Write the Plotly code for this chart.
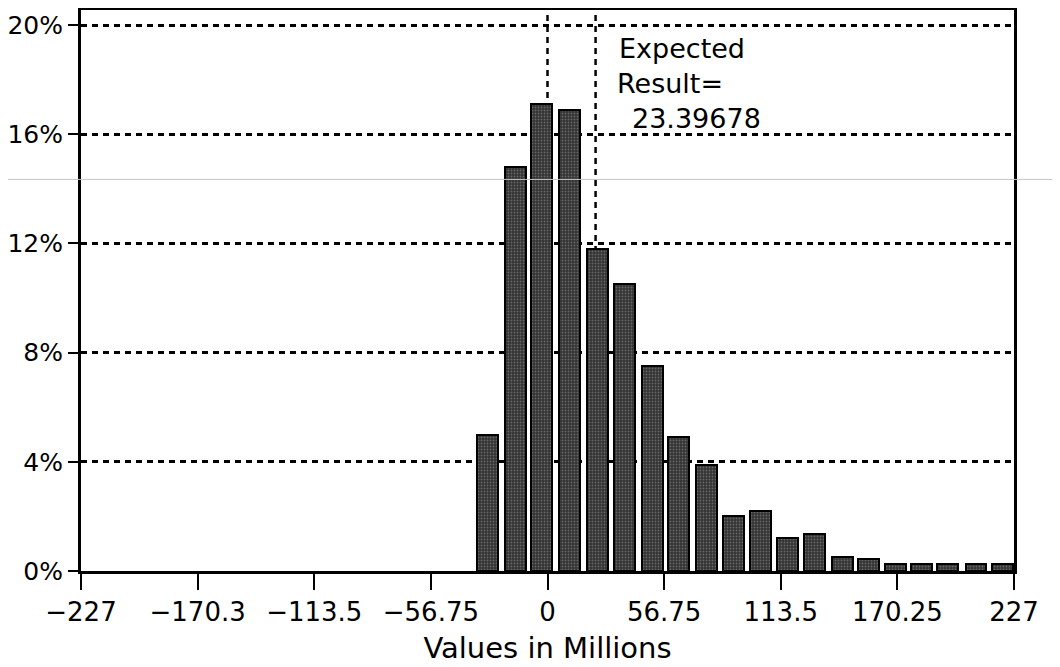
import plotly.graph_objects as go

# Data
bin_centers = [-29.2, -15.8, -2.9, 10.7, 24.1, 37.3, 51.0, 63.8, 77.2, 90.6,
               103.7, 116.9, 130.1, 143.5, 156.4, 169.5, 182.2, 194.8, 208.5, 221.6]
percent = [5.0, 14.8, 17.1, 16.9, 11.8, 10.5, 7.5, 4.9, 3.9, 2.0,
           2.2, 1.2, 1.35, 0.5, 0.45, 0.25, 0.25, 0.25, 0.25, 0.25]
expected_result = 23.39678

x_tickvals = [-227, -170.25, -113.5, -56.75, 0, 56.75, 113.5, 170.25, 227]
x_ticktext = ["−227", "−170.3", "−113.5", "−56.75", "0", "56.75", "113.5", "170.25", "227"]
y_tickvals = [0, 4, 8, 12, 16, 20]
y_ticktext = ["0%", "4%", "8%", "12%", "16%", "20%"]

FONT = "DejaVu Sans"

fig = go.Figure()
fig.add_trace(go.Bar(
    x=bin_centers, y=percent, width=10.2,
    marker=dict(color="#3a3a3a",
                line=dict(color="black", width=2),
                pattern=dict(shape=".", fgcolor="#9a9a9a", bgcolor="#333333",
                             size=3, solidity=0.3)),
    showlegend=False, hoverinfo="x+y",
))

# dashed vertical reference lines (behind bars)
for xv in [0, expected_result]:
    fig.add_shape(type="line", xref="x", yref="paper", x0=xv, x1=xv, y0=0, y1=1,
                  line=dict(color="black", width=2.5, dash="6px,5px"), layer="between")

# small tick at expected result below axis
fig.add_shape(type="line", xref="x", yref="y", x0=expected_result, x1=expected_result,
              ysizemode="pixel", yanchor=0, y0=0, y1=-11,
              line=dict(color="black", width=2))

# faint scan line
fig.add_shape(type="line", xref="paper", yref="paper", x0=-0.09, x1=1.06, y0=0.698, y1=0.698,
              line=dict(color="#c4c4c4", width=1), layer="above")

ann_font = dict(family=FONT, size=27, color="black")
fig.add_annotation(text="Expected", xref="paper", yref="paper", x=0.5745, y=0.931,
                   xanchor="left", yanchor="middle", showarrow=False, font=ann_font)
fig.add_annotation(text="Result=", xref="paper", yref="paper", x=0.5725, y=0.869,
                   xanchor="left", yanchor="middle", showarrow=False, font=ann_font)
fig.add_annotation(text=f"{expected_result}", xref="paper", yref="paper", x=0.588, y=0.806,
                   xanchor="left", yanchor="middle", showarrow=False, font=ann_font)

fig.update_layout(
    width=1052, height=659,
    margin=dict(l=73, r=46, t=2, b=96),
    paper_bgcolor="white", plot_bgcolor="white",
    font=dict(family=FONT, size=26, color="black"),
    bargap=0,
    xaxis=dict(range=[-227, 227], tickvals=x_tickvals, ticktext=x_ticktext,
               showgrid=False, zeroline=False, automargin=False,
               showline=True, linecolor="black", linewidth=3, mirror=True,
               ticks="outside", ticklen=16, tickwidth=2, tickcolor="black",
               tickfont=dict(family=FONT, size=26),
               title=dict(text="Values in Millions", font=dict(family=FONT, size=29), standoff=12)),
    yaxis=dict(range=[0, 20.55], tickvals=y_tickvals, ticktext=y_ticktext,
               showgrid=True, gridcolor="black", gridwidth=2.5, griddash="6px,5px",
               zeroline=False, automargin=False,
               showline=True, linecolor="black", linewidth=3, mirror=True,
               ticks="outside", ticklen=10, tickwidth=2, tickcolor="black",
               tickfont=dict(family=FONT, size=25)),
)

fig.write_html("out.html")
